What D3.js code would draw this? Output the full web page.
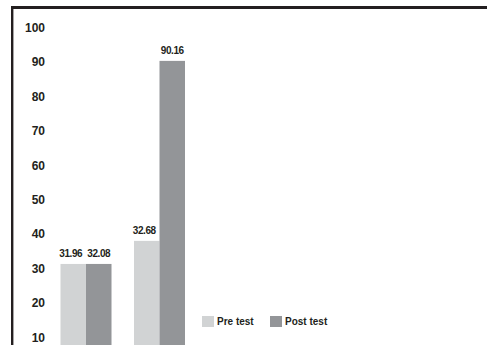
<!DOCTYPE html>
<html>
<head>
<meta charset="utf-8">
<script src="https://cdn.jsdelivr.net/npm/d3@7"></script>
<style>
  html, body { margin: 0; padding: 0; background: #fff; }
  #chart { width: 487px; height: 345px; overflow: hidden; }
  text { font-family: "Liberation Sans", Arial, sans-serif; font-weight: bold; fill: #231f20; }
</style>
</head>
<body>
<div id="chart"></div>
<script>
// data
var groups = ["Group 1", "Group 2"];
var series = ["Pre test", "Post test"];
var preTest = [31.2, 37.9];        // bar heights as drawn
var postTest = [31.2, 90.16];
var preLabels = ["31.96", "32.68"];  // printed values
var postLabels = ["32.08", "90.16"];
var yTicks = [10, 20, 30, 40, 50, 60, 70, 80, 90, 100];
var colors = ["#d1d3d4", "#939598"];

var svg = d3.select("#chart").append("svg")
    .attr("width", 487)
    .attr("height", 345);

// frame (top + left only, rest is cut off)
svg.append("line")
    .attr("x1", 11).attr("x2", 487)
    .attr("y1", 7.6).attr("y2", 7.6)
    .attr("stroke", "#231f20").attr("stroke-width", 3);
svg.append("line")
    .attr("x1", 12.2).attr("x2", 12.2)
    .attr("y1", 6).attr("y2", 345)
    .attr("stroke", "#231f20").attr("stroke-width", 2.4);

var y = d3.scaleLinear().domain([0, 100]).range([371.4, 27]);

var x = d3.scaleBand().domain(groups).range([60.5, 185])
    .paddingInner(0.306).paddingOuter(0);
var xs = d3.scaleBand().domain(series).range([0, x.bandwidth()]);

var axis = svg.append("g")
    .attr("transform", "translate(45,0)")
    .call(d3.axisLeft(y).tickValues(yTicks).tickSize(0).tickPadding(0));
axis.select(".domain").remove();
axis.selectAll("text")
    .style("font-size", "12px")
    .attr("dy", "0.36em");

var rows = groups.map(function(g, i) {
    return [
        {g: g, s: series[0], v: preTest[i], label: preLabels[i], c: colors[0]},
        {g: g, s: series[1], v: postTest[i], label: postLabels[i], c: colors[1]}
    ];
});
var flat = [].concat.apply([], rows);

svg.selectAll("rect.bar")
    .data(flat)
    .enter()
    .append("rect")
    .attr("class", "bar")
    .attr("x", (d) => x(d.g) + xs(d.s))
    .attr("width", xs.bandwidth())
    .attr("y", (d) => y(d.v))
    .attr("height", (d) => y(0) - y(d.v))
    .attr("fill", (d) => d.c);

svg.selectAll("text.val")
    .data(flat)
    .enter()
    .append("text")
    .attr("class", "val")
    .attr("x", (d) => x(d.g) + xs(d.s) + xs.bandwidth() / 2 + (d.s === series[0] ? -2.5 : 0))
    .attr("y", (d) => y(d.v) - 7)
    .attr("text-anchor", "middle")
    .style("font-size", "10px")
    .style("letter-spacing", "-0.4px")
    .text((d) => d.label);

// legend
var legendX = [202, 270];
var legend = svg.selectAll("g.legend")
    .data(series)
    .enter()
    .append("g")
    .attr("class", "legend")
    .attr("transform", (d, i) => "translate(" + legendX[i] + ",316)");
legend.append("rect")
    .attr("width", 12).attr("height", 11)
    .attr("fill", (d, i) => colors[i]);
legend.append("text")
    .attr("x", 15).attr("y", 9.3)
    .style("font-size", "10px")
    .text((d) => d);
</script>
</body>
</html>
